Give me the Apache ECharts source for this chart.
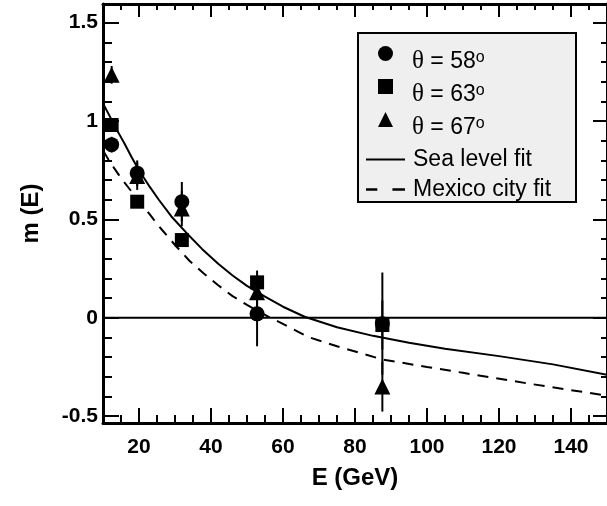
<!DOCTYPE html>
<html>
<head>
<meta charset="utf-8">
<script src="https://cdn.jsdelivr.net/npm/echarts@6/dist/echarts.min.js"></script>
<style>
  html, body { margin: 0; padding: 0; background: #fff; }
  #chart { width: 607px; height: 506px; }
</style>
</head>
<body>
<div id="chart"></div>
<script>
// measured points (E in GeV) for the three zenith angles
const energies = [12.4, 19.5, 31.9, 52.8, 87.6];
const m58 = [0.88, 0.735, 0.59, 0.02, -0.03];
const err58 = [0.04, 0.065, 0.10, 0.165, 0.26];
const m63 = [0.98, 0.59, 0.395, 0.18, -0.037];
const err63 = [0.03, 0.02, 0.03, 0.06, 0.125];
const m67 = [1.235, 0.72, 0.555, 0.13, -0.35];
const err67 = [0.045, 0.07, 0.09, 0.085, 0.127];

// fit curves
const seaE = [10, 12, 14, 16, 18, 20, 23, 25.5, 29, 33, 37.5, 42, 46, 50, 55, 60, 66, 75, 85, 95, 105, 120, 135, 150];
const seaM = [1.09, 1.02, 0.95, 0.885, 0.815, 0.75, 0.665, 0.6, 0.515, 0.435, 0.35, 0.275, 0.215, 0.162, 0.107, 0.056, 0.005, -0.048, -0.092, -0.127, -0.157, -0.195, -0.237, -0.29];
const mexE = [10, 12, 15, 18, 20, 23, 26, 30, 34, 38, 42, 46, 50, 56, 62, 67, 75, 87.6, 100, 110, 128, 150];
const mexM = [0.85, 0.79, 0.71, 0.64, 0.595, 0.525, 0.455, 0.37, 0.29, 0.225, 0.165, 0.11, 0.065, 0.005, -0.05, -0.098, -0.145, -0.212, -0.25, -0.28, -0.334, -0.396];

const zeroE = [10, 150];
const zeroM = [0, 0];

const xMajor = [20, 40, 60, 80, 100, 120, 140];
const xMinor = [15, 25, 30, 35, 45, 50, 55, 65, 70, 75, 85, 90, 95, 105, 110, 115, 125, 130, 135, 145];
const yMajor = [-0.5, 0, 0.5, 1, 1.5];
const yMinor = [-0.4, -0.3, -0.2, -0.1, 0.1, 0.2, 0.3, 0.4, 0.6, 0.7, 0.8, 0.9, 1.1, 1.2, 1.3, 1.4];

const angleNames = ['θ = 58', 'θ = 63', 'θ = 67'];
const fitNames = ['Sea level fit', 'Mexico city fit'];

const FONT = "'Liberation Sans', Arial, Helvetica, sans-serif";
const X_MIN = 10, X_MAX = 150, Y_MIN = -0.535, Y_MAX = 1.595;

const chart = echarts.init(document.getElementById('chart'));

function makeAxis(kind, position, ticks, len, opts) {
  const ax = {
    type: 'value',
    position: position,
    min: kind === 'x' ? X_MIN : Y_MIN,
    max: kind === 'x' ? X_MAX : Y_MAX,
    splitLine: { show: false },
    axisLine: { show: false, onZero: false },
    axisTick: {
      show: true, inside: true, length: len,
      customValues: ticks,
      lineStyle: { color: '#000', width: 2 }
    },
    axisLabel: { show: false }
  };
  return Object.assign(ax, opts || {});
}

const frameLine = { show: true, onZero: false, lineStyle: { color: '#000', width: 3 } };
const labelStyle = { color: '#000', fontFamily: FONT, fontWeight: 'bold', fontSize: 21 };
const nameStyle = { color: '#000', fontFamily: FONT, fontWeight: 'bold', fontSize: 24 };

const xAxes = [
  makeAxis('x', 'bottom', xMajor, 15, {
    axisLine: frameLine,
    axisLabel: Object.assign({ show: true, margin: 14, customValues: xMajor }, labelStyle),
    name: 'E (GeV)', nameLocation: 'middle', nameGap: 43, nameTextStyle: nameStyle
  }),
  makeAxis('x', 'bottom', xMinor, 8),
  makeAxis('x', 'top', xMajor, 13, { axisLine: frameLine }),
  makeAxis('x', 'top', xMinor, 6)
];

const yAxes = [
  makeAxis('y', 'left', yMajor, 16, {
    axisLine: frameLine,
    axisLabel: Object.assign({ show: true, margin: 5, customValues: yMajor }, labelStyle),
    name: 'm (E)', nameLocation: 'middle', nameGap: 60, nameRotate: 90, nameTextStyle: nameStyle
  }),
  makeAxis('y', 'left', yMinor, 9),
  makeAxis('y', 'right', yMajor, 14, { axisLine: frameLine }),
  makeAxis('y', 'right', yMinor, 6)
];

function errorBars(ys, errs) {
  return {
    type: 'custom',
    silent: true,
    z: 2,
    data: energies.map((e, i) => [e, ys[i] - errs[i], ys[i] + errs[i]]),
    encode: { x: 0, y: [1, 2] },
    renderItem: (params, api) => {
      const lo = api.coord([api.value(0), api.value(1)]);
      const hi = api.coord([api.value(0), api.value(2)]);
      return {
        type: 'line',
        shape: { x1: lo[0], y1: lo[1], x2: hi[0], y2: hi[1] },
        style: { stroke: '#000', lineWidth: 2 }
      };
    }
  };
}

function points(name, ys, symbol, size) {
  return {
    name: name, type: 'scatter', z: 4,
    symbol: symbol, symbolSize: size,
    itemStyle: { color: '#000', opacity: 1 },
    data: energies.map((e, i) => [e, ys[i]])
  };
}

function curve(name, xs, ys, dash) {
  return {
    name: name, type: 'line', z: 3,
    symbol: 'none', smooth: false,
    lineStyle: { color: '#000', width: 2, type: dash },
    itemStyle: { color: '#000' },
    data: xs.map((x, i) => [x, ys[i]])
  };
}

const legendText = {
  color: '#000', fontFamily: FONT, fontSize: 23,
  rich: {
    t: { fontFamily: "'Liberation Serif', serif", fontSize: 25, lineHeight: 23, color: '#000' },
    n: { fontFamily: FONT, fontSize: 23, lineHeight: 23, color: '#000' },
    s: { fontFamily: FONT, fontSize: 16, lineHeight: 16, verticalAlign: 'top', color: '#000' }
  }
};

const option = {
  animation: false,
  backgroundColor: '#fff',
  grid: { left: 103, right: -4, top: 4, bottom: 83, containLabel: false },
  xAxis: xAxes,
  yAxis: yAxes,
  graphic: [{
    type: 'rect', z: 1, silent: true,
    shape: { x: 358, y: 33, width: 218, height: 169 },
    style: { fill: '#efefef', stroke: '#000', lineWidth: 2 }
  }],
  legend: [
    {
      orient: 'vertical', left: 378, top: 46, padding: 0, z: 6,
      itemWidth: 15, itemHeight: 15, itemGap: 5,
      selectedMode: false,
      data: [
        { name: angleNames[0], icon: 'circle' },
        { name: angleNames[1], icon: 'rect' },
        { name: angleNames[2], icon: 'triangle' }
      ],
      formatter: n => '{t|θ}{n| = ' + n.slice(4) + '}{s|o}',
      textStyle: Object.assign({ padding: [16, 0, 0, 14] }, legendText)
    },
    {
      orient: 'vertical', left: 366, top: 148, padding: 0, z: 6,
      itemWidth: 39, itemHeight: 15, itemGap: 7,
      selectedMode: false,
      data: [
        { name: fitNames[0], icon: 'path://M0,0h39v2h-39z' },
        { name: fitNames[1], icon: 'path://M0,0h9v2h-9zM21,0h10v2h-10z' }
      ],
      formatter: n => '{n|' + n + '}',
      textStyle: Object.assign({ padding: [0, 0, 0, 3] }, legendText)
    }
  ],
  series: [
    { type: 'line', z: 2, symbol: 'none', silent: true,
      lineStyle: { color: '#000', width: 2 },
      data: zeroE.map((x, i) => [x, zeroM[i]]) },
    curve(fitNames[0], seaE, seaM, 'solid'),
    curve(fitNames[1], mexE, mexM, [11, 8]),
    errorBars(m58, err58),
    errorBars(m63, err63),
    errorBars(m67, err67),
    points(angleNames[0], m58, 'circle', 15),
    points(angleNames[1], m63, 'rect', 14),
    points(angleNames[2], m67, 'triangle', 16)
  ]
};

chart.setOption(option);
</script>
</body>
</html>
